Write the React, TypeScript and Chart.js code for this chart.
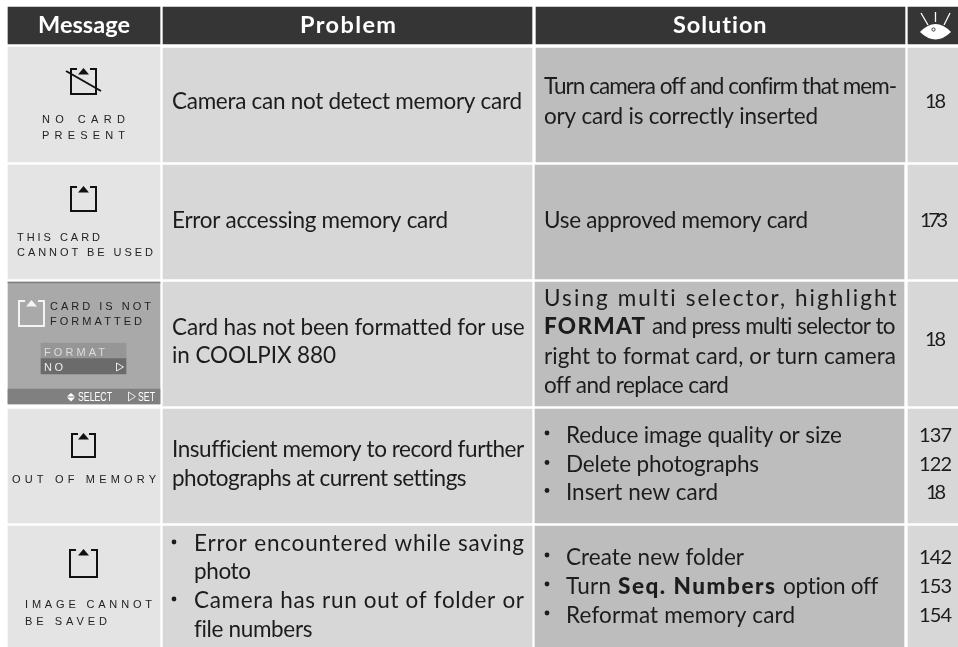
import React, { useEffect, useRef } from "react";
import { Chart, registerables } from "chart.js";

Chart.register(...registerables);

const W = 958;
const H = 647;

// Table text
const headers = ["Message", "Problem", "Solution"];
const messageLines = [
  "NO CARD", "PRESENT",
  "THIS CARD", "CANNOT BE USED",
  "CARD IS NOT", "FORMATTED", "FORMAT", "NO",
  "OUT OF MEMORY",
  "IMAGE CANNOT", "BE SAVED",
];
const statusLabels = ["SELECT", "SET"];
const problemLines = [
  "Camera can not detect memory card",
  "Error accessing memory card",
  "Card has not been formatted for use",
  "in COOLPIX 880",
  "Insufficient memory to record further",
  "photographs at current settings",
  "Error encountered while saving",
  "photo",
  "Camera has run out of folder or",
  "file numbers",
];
const solutionLines = [
  "Turn camera off and confirm that mem-",
  "ory card is correctly inserted",
  "Use approved memory card",
  "Using multi selector, highlight",
  "FORMAT",
  "and press multi selector to",
  "right to format card, or turn camera",
  "off and replace card",
  "Reduce image quality or size",
  "Delete photographs",
  "Insert new card",
  "Create new folder",
  "Turn",
  "Seq. Numbers",
  "option off",
  "Reformat memory card",
];
const pageRefs = ["18", "173", "18", "137", "122", "18", "142", "153", "154"];

// Cell extents in table units
const cellNames = [
  "screenRule", "formatBox", "noBox", "statusBar",
  "hMessage", "hProblem", "hSolution", "hPage",
  "m1", "p1", "s1", "r1",
  "m2", "p2", "s2", "r2",
  "m3", "p3", "s3", "r3",
  "m4", "p4", "s4", "r4",
  "m5", "p5", "s5", "r5",
];
const cellLeft = [8, 41, 41, 8, 8, 163, 536, 908, 8, 163, 536, 908, 8, 163, 535, 908, 8, 163, 535, 908, 8, 163, 535, 908, 8, 163, 535, 908];
const cellRight = [160, 126, 126, 160, 160, 532, 905, 958, 160, 532, 905, 958, 160, 532, 904, 958, 160, 532, 904, 958, 160, 532, 904, 958, 160, 532, 904, 958];
const cellTop = [282, 343, 358, 389, 7, 7, 7, 7, 47, 48, 48, 48, 165, 165, 165, 165, 282, 282, 282, 282, 409, 409, 409, 409, 526, 526, 526, 526];
const cellBottom = [283, 358, 374, 404, 44, 44, 44, 44, 162, 162, 162, 162, 279, 279, 279, 279, 404, 406, 406, 406, 523, 523, 523, 523, 647, 647, 647, 647];
const cellShade = [
  "#7f7f7f", "#969696", "#6b6b6b", "#808080",
  "#353535", "#353535", "#353535", "#353535",
  "#e4e4e4", "#d7d7d7", "#bdbdbd", "#d7d7d7",
  "#e4e4e4", "#d7d7d7", "#bdbdbd", "#d7d7d7",
  "#a9a9a9", "#d7d7d7", "#bdbdbd", "#d7d7d7",
  "#e4e4e4", "#d7d7d7", "#bdbdbd", "#d7d7d7",
  "#e4e4e4", "#d7d7d7", "#bdbdbd", "#d7d7d7",
];

// Text placement: [left, right, baseline]
const headerPlace = [[38, 130, 33], [300, 396, 33], [673, 767, 33]];
const messagePlace = [
  [42, 125, 123], [42, 125, 139],
  [17, 100, 241], [17, 153, 256],
  [50, 151, 310], [50, 142, 325], [44, 105, 356], [44, 63, 371],
  [12, 156, 483],
  [25, 152, 608], [25, 107, 625],
];
const messageInk = ["#222", "#222", "#222", "#222", "#222", "#222", "#dcdcdc", "#eeeeee", "#222", "#222", "#222"];
const statusPlace = [[78, 112, 401], [138, 155, 401]];
const problemPlace = [
  [172, 522, 109], [172, 448, 228], [172, 524, 335], [172, 336, 363],
  [172, 523, 457], [172, 466, 486],
  [194, 524, 551], [194, 251, 579], [194, 524, 608], [194, 312, 637],
];
const solutionPlace = [
  [544, 896, 94], [544, 818, 124], [544, 808, 228],
  [544, 897, 306], [544, 645, 334], [652, 896, 334], [544, 896, 364], [544, 728, 393],
  [566, 842, 443], [566, 759, 472], [566, 718, 500],
  [566, 744, 565], [566, 611, 594], [618, 775, 594], [783, 878, 594], [566, 795, 623],
];
const solutionBold = [4, 13];
const pagePlace = [
  [925, 946, 108], [920, 948, 227], [925, 946, 346],
  [919, 952, 442], [919, 952, 471], [926, 946, 499],
  [919, 952, 564], [919, 952, 593], [919, 952, 622],
];
const bulletPlace = [
  [174, 542], [174, 599],
  [547, 433], [547, 462.5], [547, 490.5],
  [547, 555], [547, 584], [547, 613],
];
// Memory-card icon boxes: [left, top, right, bottom]
const cardIcons = [[70, 68, 97, 95], [70, 186, 97, 212], [18, 300, 45, 327], [71, 433, 96, 458], [69, 549, 98, 578]];
const cardInk = ["#111", "#111", "#f4f4f4", "#111", "#111"];

const SANS = '"Lato", "Open Sans", sans-serif';
const MONO = '"Liberation Sans", Arial, sans-serif';

function fit(ctx: CanvasRenderingContext2D, text: string, x0: number, x1: number, y: number) {
  (ctx as any).letterSpacing = "0px";
  const w = ctx.measureText(text).width;
  const gaps = Math.max(1, text.length - 1);
  (ctx as any).letterSpacing = ((x1 - x0 - w) / gaps).toFixed(3) + "px";
  ctx.fillText(text, x0, y);
  (ctx as any).letterSpacing = "0px";
}

function squeeze(ctx: CanvasRenderingContext2D, text: string, x0: number, x1: number, y: number) {
  const w = ctx.measureText(text).width;
  ctx.save();
  ctx.translate(x0, y);
  ctx.scale((x1 - x0) / w, 1);
  ctx.fillText(text, 0, 0);
  ctx.restore();
}

const tablePainter = {
  id: "tablePainter",
  afterDatasetsDraw(chart: any) {
    const { ctx, scales } = chart;
    const X = (v: number) => scales.x.getPixelForValue(v);
    const Y = (v: number) => scales.y.getPixelForValue(v);
    ctx.save();
    ctx.textAlign = "left";
    ctx.textBaseline = "alphabetic";

    const put = (lines: string[], places: number[][], font: (i: number) => string, ink: (i: number) => string) => {
      lines.forEach((t, i) => {
        const [a, b, y] = places[i];
        ctx.font = font(i);
        ctx.fillStyle = ink(i);
        fit(ctx, t, X(a), X(b), Y(y));
      });
    };

    put(headers, headerPlace, () => `700 23.5px ${SANS}`, () => "#ffffff");
    put(problemLines, problemPlace, () => `400 22.5px ${SANS}`, () => "#1c1c1c");
    put(solutionLines, solutionPlace, (i) => `${solutionBold.includes(i) ? 900 : 400} 22.5px ${SANS}`, () => "#1c1c1c");
    put(pageRefs, pagePlace, () => `400 20px ${SANS}`, () => "#1c1c1c");
    put(messageLines, messagePlace, () => `400 11px ${MONO}`, (i) => messageInk[i]);

    ctx.font = `400 13px ${MONO}`;
    ctx.fillStyle = "#ffffff";
    statusLabels.forEach((t, i) => {
      const [a, b, y] = statusPlace[i];
      squeeze(ctx, t, X(a), X(b), Y(y));
    });

    // Bullets
    ctx.fillStyle = "#1c1c1c";
    bulletPlace.forEach(([x, y]) => {
      ctx.beginPath();
      ctx.arc(X(x), Y(y), 2.4, 0, Math.PI * 2);
      ctx.fill();
    });

    // Memory-card icons
    cardIcons.forEach(([l, t, r, b], i) => {
      const [x0, y0, x1, y1] = [X(l), Y(t), X(r), Y(b)];
      const mid = (x0 + x1) / 2;
      ctx.strokeStyle = cardInk[i];
      ctx.fillStyle = cardInk[i];
      ctx.lineWidth = 2;
      ctx.beginPath();
      ctx.moveTo(x0 + 7, y0 + 1);
      ctx.lineTo(x0 + 1, y0 + 1);
      ctx.lineTo(x0 + 1, y1 - 1);
      ctx.lineTo(x1 - 1, y1 - 1);
      ctx.lineTo(x1 - 1, y0 + 1);
      ctx.lineTo(x1 - 7, y0 + 1);
      ctx.stroke();
      ctx.beginPath();
      ctx.moveTo(mid, y0);
      ctx.lineTo(mid + 5.5, y0 + 6.5);
      ctx.lineTo(mid - 5.5, y0 + 6.5);
      ctx.closePath();
      ctx.fill();
    });
    // Slash across the first card
    ctx.strokeStyle = "#111";
    ctx.lineWidth = 2;
    ctx.beginPath();
    ctx.moveTo(X(66), Y(71));
    ctx.lineTo(X(101), Y(91));
    ctx.stroke();

    // Status-bar and menu marks
    ctx.strokeStyle = "#e8e8e8";
    ctx.lineWidth = 1;
    const hollow = (x: number, y: number, w: number, h: number) => {
      ctx.beginPath();
      ctx.moveTo(X(x), Y(y));
      ctx.lineTo(X(x + w), Y(y + h / 2));
      ctx.lineTo(X(x), Y(y + h));
      ctx.closePath();
      ctx.stroke();
    };
    hollow(116.5, 363, 7, 8);
    hollow(128.5, 392, 7, 9);
    ctx.fillStyle = "#ffffff";
    ctx.beginPath();
    ctx.moveTo(X(71), Y(393));
    ctx.lineTo(X(75), Y(396.5));
    ctx.lineTo(X(67), Y(396.5));
    ctx.closePath();
    ctx.moveTo(X(71), Y(401.5));
    ctx.lineTo(X(75), Y(397.5));
    ctx.lineTo(X(67), Y(397.5));
    ctx.closePath();
    ctx.fill();

    // Eye mark in the last header cell
    ctx.strokeStyle = "#ffffff";
    ctx.lineWidth = 1.3;
    [[921, 13, 928, 25], [935.5, 12, 935.5, 22], [950, 13, 944, 25]].forEach(([a, b, c, d]) => {
      ctx.beginPath();
      ctx.moveTo(X(a), Y(b));
      ctx.lineTo(X(c), Y(d));
      ctx.stroke();
    });
    ctx.fillStyle = "#ffffff";
    ctx.beginPath();
    ctx.moveTo(X(920), Y(32));
    ctx.quadraticCurveTo(X(935.5), Y(16), X(951), Y(32));
    ctx.quadraticCurveTo(X(935.5), Y(47), X(920), Y(32));
    ctx.closePath();
    ctx.fill();
    ctx.strokeStyle = "#353535";
    ctx.lineWidth = 1;
    ctx.beginPath();
    ctx.arc(X(933.5), Y(29.5), 1.6, 0, Math.PI * 2);
    ctx.stroke();
    ctx.restore();
  },
};

export default function App() {
  const ref = useRef<HTMLCanvasElement | null>(null);
  useEffect(() => {
    if (!ref.current) return;
    const chart = new Chart(ref.current, {
      type: "bar",
      data: {
        datasets: cellNames.map((name, i) => ({
          label: name,
          data: [{ x: (cellLeft[i] + cellRight[i]) / 2, y: [cellTop[i], cellBottom[i]] }],
          barThickness: cellRight[i] - cellLeft[i],
          backgroundColor: cellShade[i],
          borderWidth: 0,
          grouped: false,
        })) as any,
      },
      options: {
        animation: false,
        responsive: false,
        events: [],
        layout: { padding: 0 },
        plugins: { legend: { display: false }, tooltip: { enabled: false }, title: { display: false } },
        scales: {
          x: { type: "linear", min: 0, max: W, display: false, offset: false },
          y: { type: "linear", min: 0, max: H, reverse: true, display: false },
        },
      },
      plugins: [tablePainter],
    } as any);
    return () => chart.destroy();
  }, []);
  return (
    <canvas
      ref={ref}
      width={W}
      height={H}
      style={{ position: "fixed", left: 0, top: 0, display: "block", width: W, height: H }}
    />
  );
}
